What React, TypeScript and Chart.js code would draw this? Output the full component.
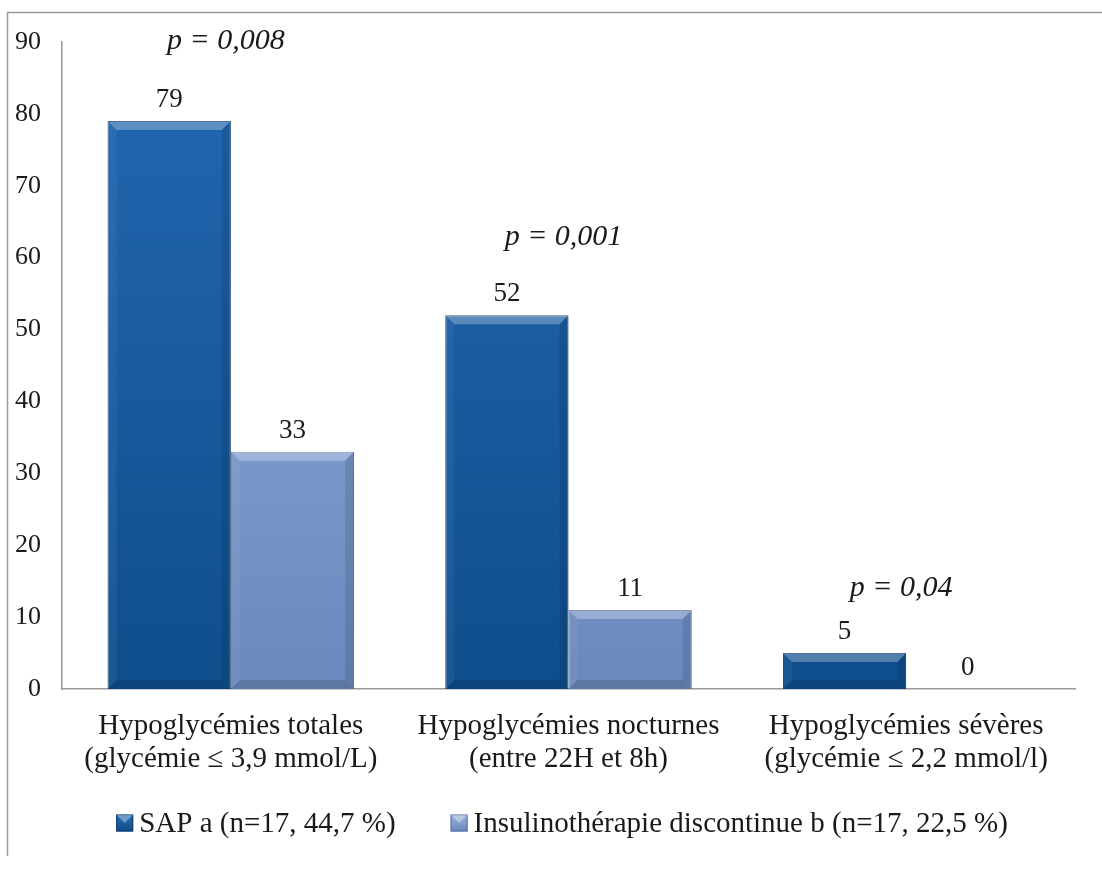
import React, { useEffect, useRef } from "react";
import { Chart, registerables } from "chart.js";

Chart.register(...registerables);

const categories: string[][] = [
  ["Hypoglycémies totales", "(glycémie ≤ 3,9 mmol/L)"],
  ["Hypoglycémies nocturnes", "(entre 22H et 8h)"],
  ["Hypoglycémies sévères", "(glycémie ≤ 2,2 mmol/l)"],
];
const sapValues = [79, 52, 5];
const insulinValues = [33, 11, 0];
const seriesNames = ["SAP a (n=17, 44,7 %)", "Insulinothérapie discontinue b (n=17, 22,5 %)"];
const pValueLabels = ["p = 0,008", "p = 0,001", "p = 0,04"];
const yMin = 0;
const yMax = 90;
const yStep = 10;

const FONT = "'Liberation Serif', 'Times New Roman', serif";
const TEXT = "#1a1a1a";

function makeGradient(chart: any, top: string, bottom: string, fallback: string) {
  const area = chart.chartArea;
  if (!area) return fallback;
  const g = chart.ctx.createLinearGradient(0, area.top, 0, area.bottom);
  g.addColorStop(0, top);
  g.addColorStop(1, bottom);
  return g;
}

const bevelPlugin = {
  id: "bevel",
  afterDatasetsDraw(chart: any) {
    const ctx = chart.ctx;
    chart.data.datasets.forEach((_ds: any, di: number) => {
      const meta = chart.getDatasetMeta(di);
      meta.data.forEach((bar: any) => {
        const { x, y, base, width } = bar.getProps(["x", "y", "base", "width"], true);
        const h = base - y;
        if (h < 2) return;
        const l = x - width / 2;
        const r = x + width / 2;
        const b = Math.min(9, h / 2);
        ctx.save();
        ctx.fillStyle = "rgba(255,255,255,0.28)";
        ctx.beginPath();
        ctx.moveTo(l, y);
        ctx.lineTo(r, y);
        ctx.lineTo(r - b, y + b);
        ctx.lineTo(l + b, y + b);
        ctx.closePath();
        ctx.fill();
        ctx.fillStyle = "rgba(255,255,255,0.05)";
        ctx.beginPath();
        ctx.moveTo(l, y);
        ctx.lineTo(l + b, y + b);
        ctx.lineTo(l + b, base - b);
        ctx.lineTo(l, base);
        ctx.closePath();
        ctx.fill();
        ctx.fillStyle = "rgba(0,0,0,0.1)";
        ctx.beginPath();
        ctx.moveTo(r, y);
        ctx.lineTo(r - b, y + b);
        ctx.lineTo(r - b, base - b);
        ctx.lineTo(r, base);
        ctx.closePath();
        ctx.fill();
        ctx.fillStyle = "rgba(0,0,0,0.12)";
        ctx.beginPath();
        ctx.moveTo(l, base);
        ctx.lineTo(l + b, base - b);
        ctx.lineTo(r - b, base - b);
        ctx.lineTo(r, base);
        ctx.closePath();
        ctx.fill();
        ctx.restore();
      });
    });
  },
};

const labelsPlugin = {
  id: "valueLabels",
  afterDatasetsDraw(chart: any, _args: any, opts: any) {
    const ctx = chart.ctx;
    ctx.save();
    ctx.fillStyle = TEXT;
    ctx.textAlign = "center";
    ctx.textBaseline = "middle";
    ctx.font = `27px ${FONT}`;
    chart.data.datasets.forEach((ds: any, di: number) => {
      const meta = chart.getDatasetMeta(di);
      meta.data.forEach((bar: any, i: number) => {
        const { x, y } = bar.getProps(["x", "y"], true);
        ctx.fillText(String(ds.data[i]), x, y - 21);
      });
    });
    const xScale = chart.scales.x;
    const yScale = chart.scales.y;
    ctx.font = `italic 30px ${FONT}`;
    const offs: number[] = opts.pOffsets || [];
    pValueLabels.forEach((txt, i) => {
      const maxV = Math.max(sapValues[i], insulinValues[i]);
      const cx = xScale.getPixelForValue(i) - 5;
      const cy = yScale.getPixelForValue(maxV) - (offs[i] ?? 78);
      ctx.fillText(txt, cx, cy);
    });
    ctx.restore();
  },
};

const framePlugin = {
  id: "frame",
  afterDraw(chart: any) {
    const ctx = chart.ctx;
    ctx.save();
    ctx.strokeStyle = "#9a9a9a";
    ctx.lineWidth = 1.5;
    ctx.beginPath();
    ctx.moveTo(7.5, 856);
    ctx.lineTo(7.5, 12.5);
    ctx.lineTo(chart.width, 12.5);
    ctx.stroke();

    const fills = [
      ["#2a6db5", "#0f4a86", "#0b3a6c"],
      ["#9cb5e0", "#6a87bb", "#56719f"],
    ];
    ctx.font = `29px ${FONT}`;
    ctx.textBaseline = "middle";
    ctx.textAlign = "left";
    const box = 17;
    const gapText = 6;
    const gapItem = 55;
    const widths = seriesNames.map((n) => box + gapText + ctx.measureText(n).width);
    const total = widths.reduce((a, b) => a + b, 0) + gapItem * (widths.length - 1);
    let x = 562 - total / 2;
    const cy = 823;
    seriesNames.forEach((n, i) => {
      const g = ctx.createLinearGradient(0, cy - box / 2, 0, cy + box / 2);
      g.addColorStop(0, fills[i][0]);
      g.addColorStop(1, fills[i][1]);
      ctx.fillStyle = g;
      ctx.fillRect(x, cy - box / 2, box, box);
      ctx.strokeStyle = fills[i][2];
      ctx.lineWidth = 1;
      ctx.strokeRect(x + 0.5, cy - box / 2 + 0.5, box - 1, box - 1);
      ctx.fillStyle = "rgba(255,255,255,0.35)";
      ctx.beginPath();
      ctx.moveTo(x, cy - box / 2);
      ctx.lineTo(x + box, cy - box / 2);
      ctx.lineTo(x + box / 2, cy);
      ctx.closePath();
      ctx.fill();
      ctx.fillStyle = TEXT;
      ctx.fillText(n, x + box + gapText, cy + 1);
      x += widths[i] + gapItem;
    });
    ctx.restore();
  },
};

export default function App() {
  const ref = useRef<HTMLCanvasElement | null>(null);
  useEffect(() => {
    if (!ref.current) return;
    const chart = new Chart(ref.current, {
      type: "bar",
      data: {
        labels: categories,
        datasets: [
          {
            label: seriesNames[0],
            data: sapValues,
            backgroundColor: (c: any) => makeGradient(c.chart, "#2368b2", "#0f4e8c", "#1b5ea3"),
            borderColor: "#0b3a6c",
            borderWidth: 1,
          },
          {
            label: seriesNames[1],
            data: insulinValues,
            backgroundColor: (c: any) => makeGradient(c.chart, "#95b1e0", "#6a88bc", "#7f9ccd"),
            borderColor: "#56719f",
            borderWidth: 1,
          },
        ],
      },
      options: {
        responsive: false,
        animation: false,
        events: [],
        layout: { padding: { top: 42, right: 27, bottom: 0, left: 0 } },
        datasets: { bar: { categoryPercentage: 0.73, barPercentage: 1.0 } },
        plugins: {
          legend: { display: false },
          tooltip: { enabled: false },
          title: { display: false },
          valueLabels: { pOffsets: [80, 78, 65] },
        } as any,
        scales: {
          x: {
            grid: { display: false, drawTicks: false },
            border: { display: true, color: "#9a9a9a", width: 1.5 },
            ticks: {
              color: TEXT,
              font: { family: FONT, size: 29, lineHeight: 1.14 },
              padding: 21,
              maxRotation: 0,
              autoSkip: false,
            },
            afterFit: (s: any) => {
              s.height = 876 - 689;
            },
          },
          y: {
            min: yMin,
            max: yMax,
            grid: { display: false, drawTicks: false },
            border: { display: true, color: "#9a9a9a", width: 1.5 },
            ticks: {
              stepSize: yStep,
              color: TEXT,
              font: { family: FONT, size: 26 },
              padding: 21,
            },
            afterFit: (s: any) => {
              s.width = 62;
            },
          },
        },
      },
      plugins: [bevelPlugin, labelsPlugin, framePlugin],
    });
    return () => chart.destroy();
  }, []);
  return (
    <div style={{ position: "absolute", left: 0, top: 0, width: 1102, height: 876, background: "#fff" }}>
      <canvas ref={ref} width={1102} height={876} style={{ display: "block" }} />
    </div>
  );
}
